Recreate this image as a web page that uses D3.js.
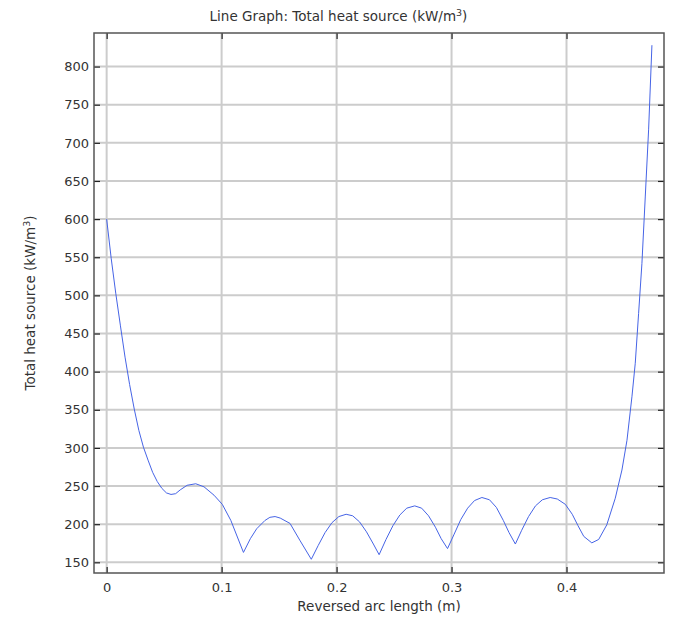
<!DOCTYPE html>
<html>
<head>
<meta charset="utf-8">
<script src="https://cdn.jsdelivr.net/npm/d3@7"></script>
<style>
  html, body { margin: 0; padding: 0; background: #ffffff; }
  svg { display: block; font-family: "DejaVu Sans", sans-serif; }
</style>
</head>
<body>
<svg id="chart" width="673" height="619"></svg>
<script>
// Reversed arc length (m)
const arcLength = [
  0, 0.004, 0.008, 0.012, 0.016, 0.020, 0.024, 0.028, 0.032, 0.036,
  0.040, 0.044, 0.048, 0.052, 0.056, 0.060, 0.064, 0.070, 0.0775, 0.0847,
  0.0934, 0.1006, 0.108,
  0.119, 0.125, 0.1305, 0.1378, 0.142, 0.1465, 0.151, 0.1595, 0.168, 0.178,
  0.184, 0.190, 0.196, 0.202, 0.2083, 0.214, 0.220, 0.226, 0.232, 0.237,
  0.243, 0.249, 0.255, 0.261, 0.268, 0.274, 0.280, 0.286, 0.291, 0.2965,
  0.302, 0.308, 0.314, 0.320, 0.3264, 0.333, 0.339, 0.345, 0.350, 0.3555,
  0.361, 0.367, 0.373, 0.379, 0.3858, 0.392, 0.399, 0.405, 0.410, 0.415,
  0.422, 0.428, 0.435, 0.4424, 0.4482, 0.4526, 0.4569, 0.4598, 0.4627, 0.4656,
  0.4685, 0.4714, 0.4743
];

// Total heat source (kW/m^3)
const heatSource = [
  600, 548, 502, 460, 419, 383, 351, 323, 301, 284,
  268, 256, 247, 241, 239, 240, 245, 251, 253, 249,
  238, 226, 205,
  163, 181, 194, 205, 209, 210, 208, 201, 179, 154,
  172, 189, 202, 210, 213, 211, 203, 190, 174, 160,
  180, 198, 212, 221, 224, 221, 211, 196, 181, 168,
  186, 206, 221, 231, 235, 232, 222, 205, 189, 174,
  192, 210, 224, 232, 235, 233, 226, 213, 198, 184,
  175.5, 180, 199, 234, 271, 310, 367, 411, 476, 542,
  629, 717, 828
];

const xTicks = [0, 0.1, 0.2, 0.3, 0.4];
const xTickLabels = ["0", "0.1", "0.2", "0.3", "0.4"];
const yTicks = [150, 200, 250, 300, 350, 400, 450, 500, 550, 600, 650, 700, 750, 800];

const titleText = "Line Graph: Total heat source (kW/m";
const xLabelText = "Reversed arc length (m)";
const yLabelText = "Total heat source (kW/m";

const width = 673;
const svg = d3.select("#chart");
const box = { left: 94, top: 33, right: 664, bottom: 573 };
const textColor = "#333333";
const labelSize = "13.5px";

const x = d3.scaleLinear().domain([-0.011, 0.4848]).range([box.left, box.right]);
const y = d3.scaleLinear().domain([136, 844]).range([box.bottom, box.top]);

const points = arcLength.map((v, i) => [v, heatSource[i]]);

// grid
const grid = svg.append("g");
grid.selectAll("line.gx").data(xTicks).join("line")
  .attr("x1", d => x(d)).attr("x2", d => x(d))
  .attr("y1", box.top).attr("y2", box.bottom)
  .attr("stroke", "#cccccc").attr("stroke-width", 2);
grid.selectAll("line.gy").data(yTicks).join("line")
  .attr("x1", box.left).attr("x2", box.right)
  .attr("y1", d => y(d)).attr("y2", d => y(d))
  .attr("stroke", "#cccccc").attr("stroke-width", 2);

// data line
svg.append("defs").append("clipPath").attr("id", "plotclip")
  .append("rect").attr("x", box.left).attr("y", box.top)
  .attr("width", box.right - box.left).attr("height", box.bottom - box.top);

svg.append("path")
  .datum(points)
  .attr("clip-path", "url(#plotclip)")
  .attr("fill", "none")
  .attr("stroke", "#4664e6")
  .attr("stroke-width", 1)
  .attr("d", d3.line().x(d => x(d[0])).y(d => y(d[1])));

// axes with inward ticks
function styleAxis(g) {
  g.select(".domain").remove();
  g.selectAll(".tick line").attr("stroke", "#222222").attr("stroke-width", 1.2);
  g.selectAll(".tick text").attr("fill", textColor).style("font-size", "13px")
    .style("font-family", "DejaVu Sans, sans-serif");
}

svg.append("g").attr("transform", `translate(0,${box.bottom})`)
  .call(d3.axisBottom(x).tickValues(xTicks).tickSize(-6).tickPadding(10)
    .tickFormat((d, i) => xTickLabels[i]))
  .call(styleAxis);

svg.append("g").attr("transform", `translate(0,${box.top})`)
  .call(d3.axisTop(x).tickValues(xTicks).tickSize(-6).tickFormat(""))
  .call(styleAxis);

svg.append("g").attr("transform", `translate(${box.left},0)`)
  .call(d3.axisLeft(y).tickValues(yTicks).tickSize(-6).tickPadding(5))
  .call(styleAxis);

svg.append("g").attr("transform", `translate(${box.right},0)`)
  .call(d3.axisRight(y).tickValues(yTicks).tickSize(-6).tickFormat(""))
  .call(styleAxis);

// frame
svg.append("rect")
  .attr("x", box.left).attr("y", box.top)
  .attr("width", box.right - box.left).attr("height", box.bottom - box.top)
  .attr("fill", "none").attr("stroke", "#555555").attr("stroke-width", 1.5);

// title, centred on the whole figure
const title = svg.append("text")
  .attr("x", width / 2 + 2).attr("y", 21)
  .attr("text-anchor", "middle").attr("fill", textColor)
  .style("font-size", labelSize);
title.append("tspan").text(titleText);
title.append("tspan").attr("dy", -5).style("font-size", "9.5px").text("3");
title.append("tspan").attr("dy", 5).text(")");

// x label
svg.append("text")
  .attr("x", (box.left + box.right) / 2).attr("y", 611)
  .attr("text-anchor", "middle").attr("fill", textColor)
  .style("font-size", labelSize)
  .text(xLabelText);

// y label
const yl = svg.append("text")
  .attr("transform", `translate(35,${(box.top + box.bottom) / 2}) rotate(-90)`)
  .attr("text-anchor", "middle").attr("fill", textColor)
  .style("font-size", labelSize);
yl.append("tspan").text(yLabelText);
yl.append("tspan").attr("dy", -5).style("font-size", "9.5px").text("3");
yl.append("tspan").attr("dy", 5).text(")");
</script>
</body>
</html>
